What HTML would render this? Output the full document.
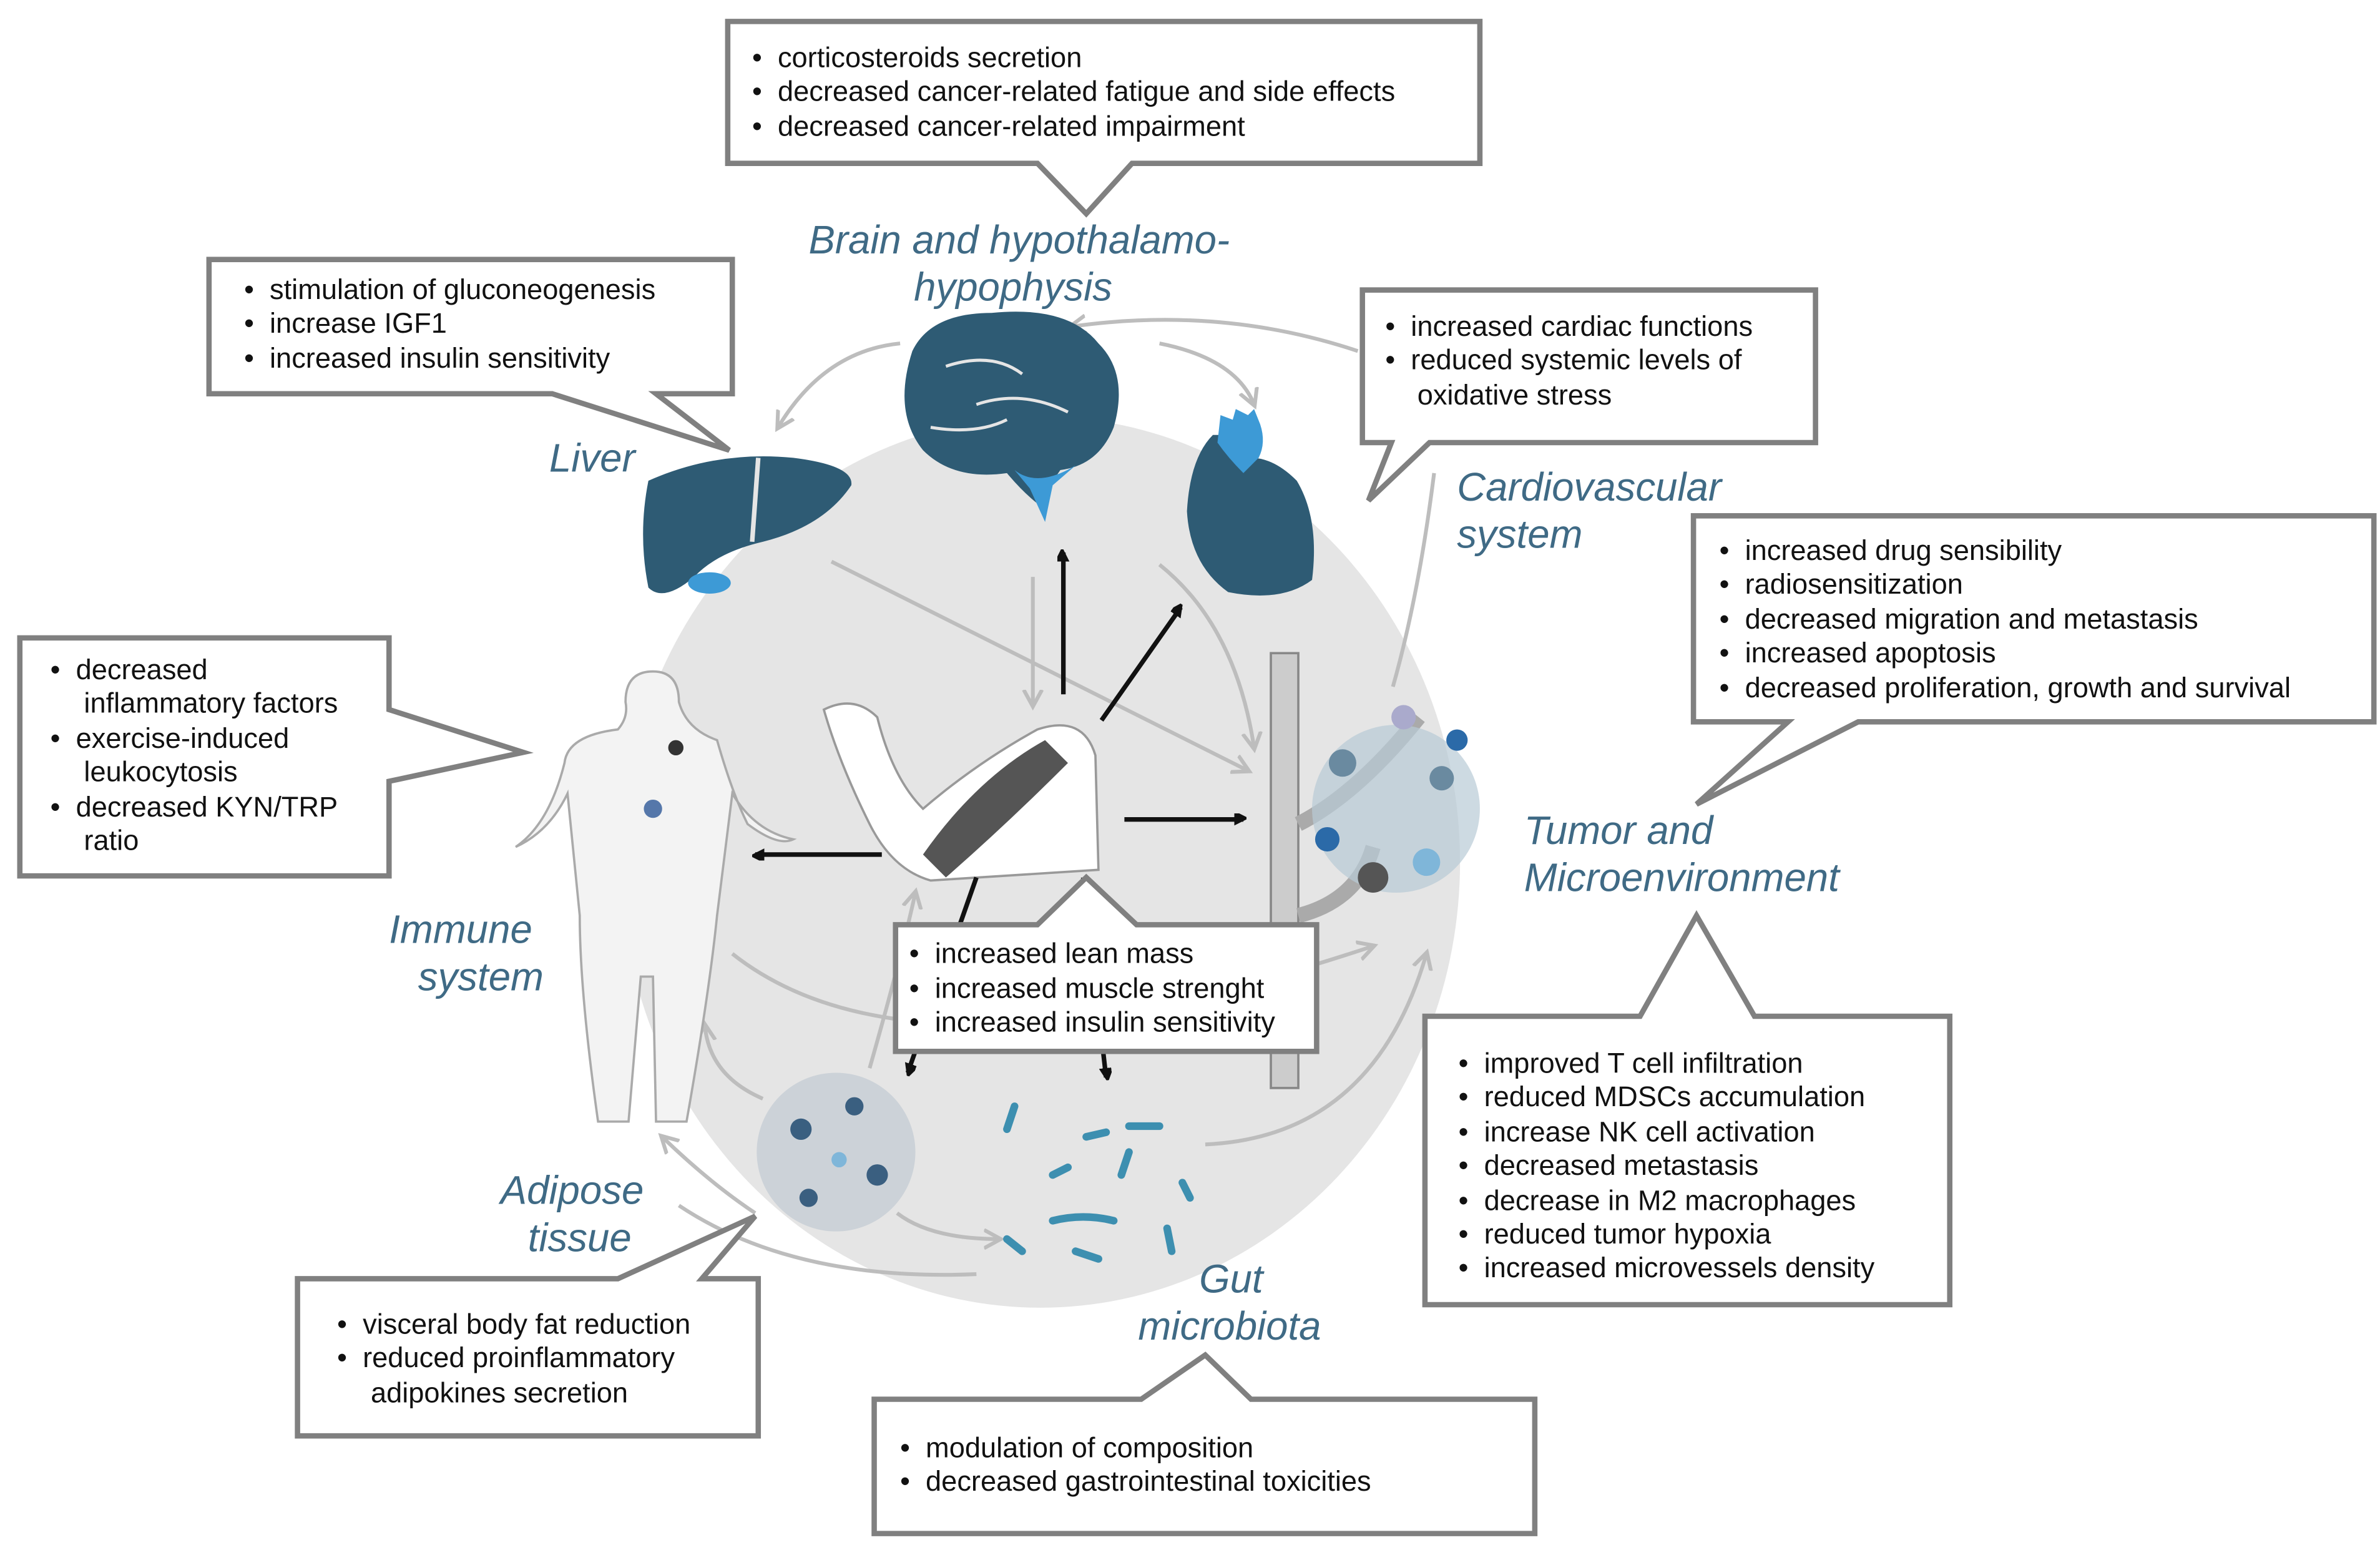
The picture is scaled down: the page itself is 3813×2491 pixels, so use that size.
<!DOCTYPE html>
<html><head><meta charset="utf-8"><style>
html,body{margin:0;padding:0;background:#fff}
svg{display:block}
.t{font-family:"Liberation Sans",sans-serif;font-size:18.5px;fill:#111}
.l{font-family:"Liberation Sans",sans-serif;font-size:26px;font-style:italic;fill:#3f6a85}
.b{fill:#fff;stroke:#808080;stroke-width:3.5;stroke-linejoin:miter}
.g{fill:none;stroke:#bdbdbd;stroke-width:2.5}
.k{stroke:#111;stroke-width:3;fill:none}
</style></head><body>
<svg width="3813" height="2491" viewBox="0 0 1560 1019" xmlns="http://www.w3.org/2000/svg">
<defs>
<marker id="ak" markerWidth="8" markerHeight="8" refX="6" refY="4" orient="auto" markerUnits="userSpaceOnUse"><path d="M0,0 L8,4 L0,8z" fill="#111" transform="scale(1.6) translate(-2,-2)"/></marker>
<marker id="ag" markerWidth="14" markerHeight="14" refX="10" refY="7" orient="auto" markerUnits="userSpaceOnUse"><path d="M0,1 L11,7 L0,13" fill="none" stroke="#bdbdbd" stroke-width="2.5"/></marker>
</defs>
<ellipse cx="682" cy="565" rx="275" ry="292" fill="#e5e5e5"/>

<!-- gray connectors -->
<path class="g" d="M590,225 Q540,230 510,280" marker-end="url(#ag)"/>
<path class="g" d="M890,230 Q800,200 702,214" marker-end="url(#ag)"/>
<path class="g" d="M760,225 Q810,235 822,265" marker-end="url(#ag)"/>
<path class="g" d="M545,368 L818,505" marker-end="url(#ag)"/>
<path class="g" d="M677,378 L677,462" marker-end="url(#ag)"/>
<path class="g" d="M760,370 Q810,410 822,490" marker-end="url(#ag)"/>
<path class="g" d="M940,310 Q930,390 913,450" />
<path class="g" d="M480,625 Q600,720 900,620" marker-end="url(#ag)"/>
<path class="g" d="M570,700 Q590,630 600,585" marker-end="url(#ag)"/>
<path class="g" d="M500,720 Q465,705 462,672" marker-end="url(#ag)"/>
<path class="g" d="M495,795 Q465,775 434,745" marker-end="url(#ag)"/>
<path class="g" d="M588,795 Q610,812 655,812" marker-end="url(#ag)"/>
<path class="g" d="M640,835 Q520,840 445,790" />
<path class="g" d="M790,750 Q900,745 935,625" marker-end="url(#ag)"/>

<!-- liver -->
<path d="M425,315 Q470,295 520,300 Q560,305 558,318 Q540,345 500,355 Q470,362 455,378 Q435,395 425,385 Q418,350 425,315z" fill="#2e5b74"/>
<path d="M497,300 L493,355" stroke="#e5e5e5" stroke-width="3"/>
<ellipse cx="465" cy="382" rx="14" ry="7" fill="#3d9ad6"/>
<!-- brain -->
<path d="M598,230 Q610,205 650,205 Q700,200 720,225 Q740,245 730,280 Q720,305 695,308 L680,330 Q670,322 660,310 Q625,315 605,295 Q585,270 598,230z" fill="#2e5b74"/>
<path d="M665,308 Q680,320 705,305 L690,318 L685,342 L675,320z" fill="#3d9ad6"/>
<path d="M620,240 Q650,230 670,245 M640,265 Q670,255 700,270 M610,280 Q640,285 660,275" stroke="#e5e5e5" stroke-width="2" fill="none"/>
<!-- heart -->
<path d="M795,285 Q780,300 778,335 Q780,370 805,388 Q840,395 860,380 Q865,340 850,315 Q835,300 820,300 L815,285z" fill="#2e5b74"/>
<path d="M798,290 L800,272 L808,275 L810,268 L818,272 L822,268 L826,278 Q830,290 825,300 L815,310 Q805,300 798,290z" fill="#3d9ad6"/>
<!-- arm -->
<path d="M540,465 Q560,455 575,470 Q585,510 605,530 Q640,500 680,478 Q710,468 718,495 L720,570 L610,577 Q585,570 570,540 Q550,500 540,465z" fill="#fff" stroke="#999" stroke-width="1.5"/>
<path d="M605,560 Q640,510 685,485 L700,500 Q660,540 620,575z" fill="#555"/>
<!-- vessel + tumor -->
<rect x="833" y="428" width="18" height="285" fill="#ccc" stroke="#888" stroke-width="1.5"/>
<path d="M851,540 Q890,520 930,470 M851,600 Q890,590 900,555" stroke="#aaa" stroke-width="10" fill="none"/>
<circle cx="915" cy="530" r="55" fill="#b8cad6" opacity="0.7"/>
<g fill="#6a8aa0"><circle cx="880" cy="500" r="9"/><circle cx="945" cy="510" r="8"/><circle cx="900" cy="575" r="10" fill="#555"/><circle cx="935" cy="565" r="9" fill="#7fb6d9"/><circle cx="870" cy="550" r="8" fill="#2b6aa8"/><circle cx="955" cy="485" r="7" fill="#2b6aa8"/><circle cx="920" cy="470" r="8" fill="#aac"/></g>
<!-- body -->
<path d="M428,440 Q445,440 445,460 Q450,478 470,485 Q480,520 490,540 Q510,555 520,550 Q495,545 480,520 L470,600 Q465,650 450,735 L430,735 L428,640 L420,640 L412,735 L392,735 Q380,650 380,600 L372,520 Q360,545 338,555 Q360,540 370,500 Q372,482 405,478 Q412,470 410,460 Q410,440 428,440z" fill="#f3f3f3" stroke="#aaa" stroke-width="1.5"/>
<circle cx="443" cy="490" r="5" fill="#333"/><circle cx="428" cy="530" r="6" fill="#5577aa"/>
<!-- adipose -->
<circle cx="548" cy="755" r="52" fill="#ccd2d8"/>
<g fill="#3a5f80"><circle cx="525" cy="740" r="7"/><circle cx="560" cy="725" r="6"/><circle cx="575" cy="770" r="7"/><circle cx="530" cy="785" r="6"/><circle cx="550" cy="760" r="5" fill="#7fb6d9"/></g>
<!-- gut -->
<g stroke="#3d8fb0" stroke-width="5" stroke-linecap="round"><path d="M660,740 L665,725"/><path d="M690,770 L700,765"/><path d="M735,770 L740,755"/><path d="M690,800 Q710,795 730,800"/><path d="M660,812 L670,820"/><path d="M705,820 L720,825"/><path d="M765,805 L768,820"/><path d="M740,738 L760,738"/><path d="M712,745 L725,742"/><path d="M775,775 L780,785"/></g>

<!-- black arrows -->
<path class="k" d="M697,455 L697,362" marker-end="url(#ak)"/>
<path class="k" d="M722,472 L774,398" marker-end="url(#ak)"/>
<path class="k" d="M737,537 L815,537" marker-end="url(#ak)"/>
<path class="k" d="M578,560 L495,560" marker-end="url(#ak)"/>
<path class="k" d="M640,575 L595,703" marker-end="url(#ak)"/>
<path class="k" d="M710,575 L725,706" marker-end="url(#ak)"/>

<!-- callouts -->
<polygon class="b" points="477,14 970,14 970,107 742,107 712,140 680,107 477,107"/>
<polygon class="b" points="137,170 480,170 480,258 430,258 478,295 362,258 137,258"/>
<polygon class="b" points="893,190 1190,190 1190,290 937,290 897,328 912,290 893,290"/>
<polygon class="b" points="1110,338 1556,338 1556,473 1218,473 1112,527 1172,473 1110,473"/>
<polygon class="b" points="13,418 255,418 255,465 343,493 255,512 255,574 13,574"/>
<polygon class="b" points="587,606 680,606 712,575 745,606 863,606 863,689 587,689"/>
<polygon class="b" points="934,666 1075,666 1112,600 1150,666 1278,666 1278,855 934,855"/>
<polygon class="b" points="195,838 405,838 495,797 460,838 497,838 497,941 195,941"/>
<polygon class="b" points="573,917 748,917 790,888 820,917 1006,917 1006,1005 573,1005"/>

<g class="t">
<text x="493" y="44">•&#160;&#160;corticosteroids secretion</text>
<text x="493" y="66">•&#160;&#160;decreased cancer-related fatigue  and side effects</text>
<text x="493" y="89">•&#160;&#160;decreased cancer-related impairment</text>
<text x="160" y="196">•&#160;&#160;stimulation of gluconeogenesis</text>
<text x="160" y="218">•&#160;&#160;increase IGF1</text>
<text x="160" y="241">•&#160;&#160;increased insulin sensitivity</text>
<text x="908" y="220">•&#160;&#160;increased cardiac functions</text>
<text x="908" y="242">•&#160;&#160;reduced systemic levels of</text>
<text x="929" y="265">oxidative stress</text>
<text x="1127" y="367">•&#160;&#160;increased  drug sensibility</text>
<text x="1127" y="389">•&#160;&#160;radiosensitization</text>
<text x="1127" y="412">•&#160;&#160;decreased migration and metastasis</text>
<text x="1127" y="434">•&#160;&#160;increased apoptosis</text>
<text x="1127" y="457">•&#160;&#160;decreased proliferation, growth and survival</text>
<text x="33" y="445">•&#160;&#160;decreased</text>
<text x="55" y="467">inflammatory factors</text>
<text x="33" y="490">•&#160;&#160;exercise-induced</text>
<text x="55" y="512">leukocytosis</text>
<text x="33" y="535">•&#160;&#160;decreased KYN/TRP</text>
<text x="55" y="557">ratio</text>
<text x="596" y="631">•&#160;&#160;increased lean mass</text>
<text x="596" y="654">•&#160;&#160;increased muscle strenght</text>
<text x="596" y="676">•&#160;&#160;increased insulin sensitivity</text>
<text x="956" y="703">•&#160;&#160;improved T cell infiltration</text>
<text x="956" y="725">•&#160;&#160;reduced MDSCs accumulation</text>
<text x="956" y="748">•&#160;&#160;increase NK cell activation</text>
<text x="956" y="770">•&#160;&#160;decreased metastasis</text>
<text x="956" y="793">•&#160;&#160;decrease in M2 macrophages</text>
<text x="956" y="815">•&#160;&#160;reduced tumor hypoxia</text>
<text x="956" y="837">•&#160;&#160;increased microvessels density</text>
<text x="221" y="874">•&#160;&#160;visceral body fat reduction</text>
<text x="221" y="896">•&#160;&#160;reduced proinflammatory</text>
<text x="243" y="919">adipokines secretion</text>
<text x="590" y="955">•&#160;&#160;modulation of composition</text>
<text x="590" y="977">•&#160;&#160;decreased gastrointestinal toxicities</text>
</g>
<g class="l">
<text x="530" y="166">Brain and hypothalamo-</text>
<text x="599" y="197">hypophysis</text>
<text x="360" y="309">Liver</text>
<text x="955" y="328">Cardiovascular</text>
<text x="955" y="359">system</text>
<text x="999" y="553">Tumor and</text>
<text x="999" y="584">Microenvironment</text>
<text x="255" y="618">Immune</text>
<text x="274" y="649">system</text>
<text x="328" y="789">Adipose</text>
<text x="346" y="820">tissue</text>
<text x="786" y="847">Gut</text>
<text x="746" y="878">microbiota</text>
</g>
</svg>
</body></html>
